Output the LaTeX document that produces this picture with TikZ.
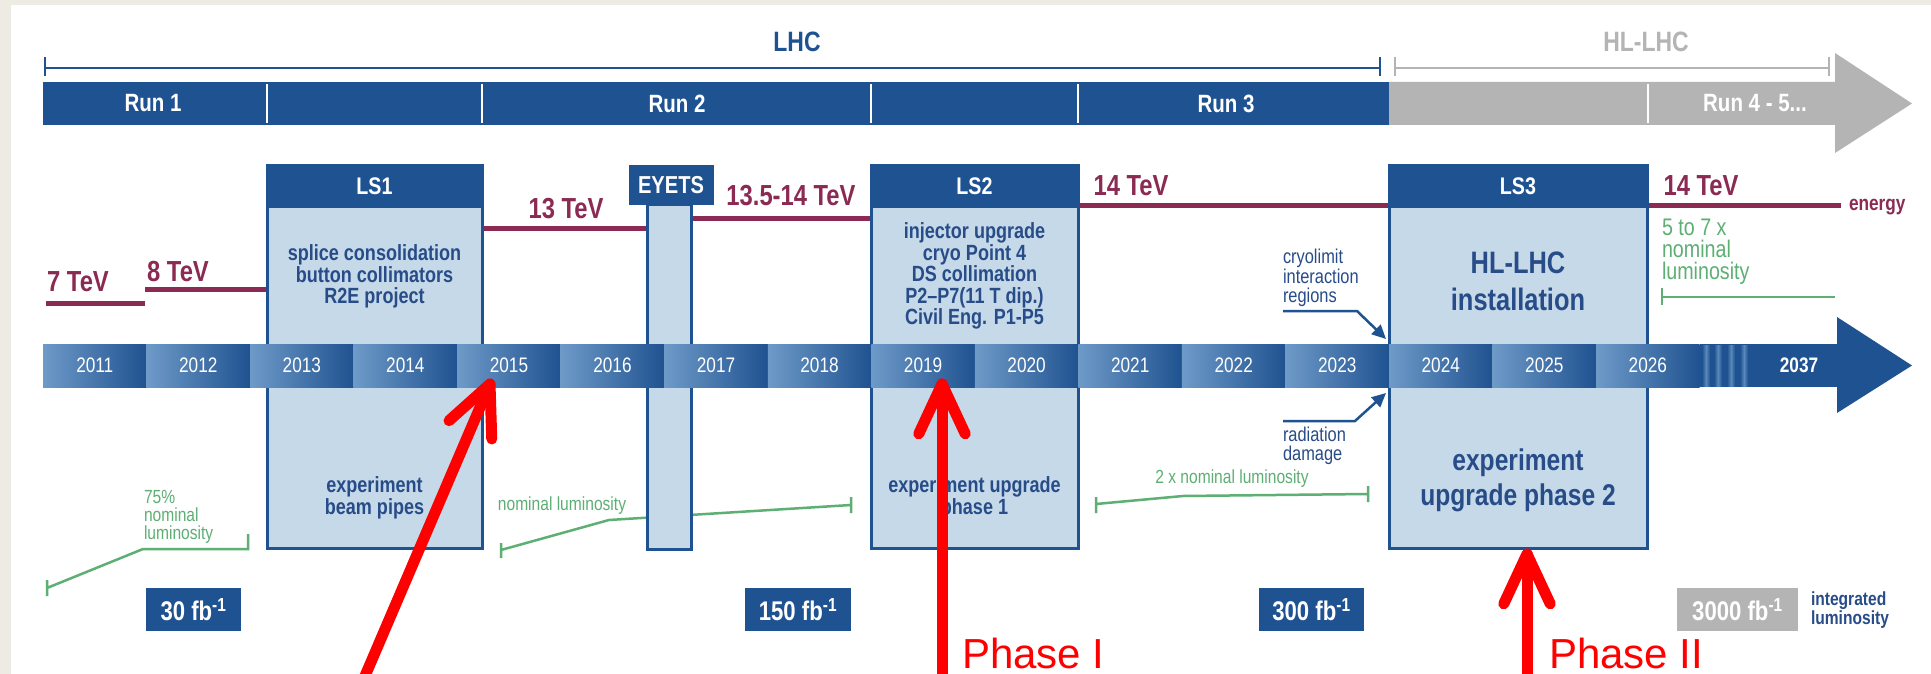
\documentclass[tikz,border=0pt]{standalone}
\usepackage{fontspec}
\setmainfont{Liberation Sans}
\newfontfamily\cf{Liberation Sans}[FakeStretch=0.82]
\usetikzlibrary{arrows.meta,calc}
\newcommand\fsz[2]{\fontsize{#1}{#2}\selectfont}
\definecolor{dblue}{HTML}{1F5290}
\definecolor{lbox}{HTML}{C5D9E9}
\definecolor{segl}{HTML}{6E9AC8}
\definecolor{maroon}{HTML}{8B2A52}
\definecolor{lgreen}{HTML}{5DAF74}
\definecolor{hlgray}{HTML}{B4B4B4}
\definecolor{beige}{HTML}{EEEBE4}
\definecolor{tblue}{HTML}{274C88}
\begin{document}
\begin{tikzpicture}[x=1pt,y=-1pt,
  every node/.style={inner sep=0pt, outer sep=0pt},
  runtxt/.style={text=white, font=\cf\bfseries\fsz{25}{25}},
  hdrbox/.style={fill=dblue, draw=dblue, line width=1pt, anchor=north west},
  bodybox/.style={fill=lbox, draw=dblue, line width=3pt, anchor=north west},
  hdrtxt/.style={text=white, font=\cf\bfseries\fsz{24}{24}},
  boxtxt/.style={text=tblue, font=\cf\bfseries\fsz{22}{21.5}, align=center},
  bigtxt/.style={text=tblue, font=\cf\bfseries\fsz{30}{36}, align=center},
  tev/.style={text=maroon, font=\cf\bfseries\fsz{29}{29}},
  eline/.style={draw=maroon, line width=5pt},
  gline/.style={draw=lgreen, line width=2.5pt},
  gtxt/.style={text=lgreen, font=\cf\fsz{19}{18}, align=left},
  btxt/.style={text=tblue, font=\cf\fsz{20}{19.5}, align=left},
  yr/.style={text=white, font=\cf\fsz{21}{21}},
  fbbox/.style={fill=dblue, anchor=north west, minimum height=43pt},
  fbtxt/.style={text=white, font=\cf\bfseries\fsz{27}{27}},
  redarr/.style={draw=red, line width=11pt, line cap=round, line join=round},
  phase/.style={text=red, font=\fsz{42}{42}, anchor=base west},
  blarr/.style={draw=dblue, line width=2.5pt, -{Triangle[length=14pt,width=13pt]}},
]
\useasboundingbox (0,0) rectangle (1931,674);
\clip (0,0) rectangle (1931,674);
\fill[beige] (0,0) rectangle (1931,674);
\fill[white] (11,5) rectangle (1931,674);

% brackets
\draw[dblue, line width=2.5pt] (45,57) -- (45,76) (45,68) -- (1380,68) (1380,57) -- (1380,76);
\draw[hlgray, line width=2.5pt] (1395,57) -- (1395,76) (1395,68) -- (1829,68) (1829,57) -- (1829,76);
\node[text=dblue, font=\cf\bfseries\fsz{28}{28}] (lhc) at (797,42) {LHC};
\node[text=hlgray, font=\cf\bfseries\fsz{28}{28}] (hllhc) at (1646,42) {HL-LHC};

% run bar
\fill[dblue] (43,82) rectangle (1389,125);
\fill[hlgray] (1389,82) -- (1835,82) -- (1835,53) -- (1912,103.5) -- (1835,153) -- (1835,125) -- (1389,125) -- cycle;
\draw[white, line width=1.5pt] (267,84) -- (267,123) (482,84) -- (482,123) (871,84) -- (871,123) (1078,84) -- (1078,123) (1648,84) -- (1648,123);
\node[runtxt] (run1) at (153,103.5) {Run 1};
\node[runtxt] (run2) at (677,103.5) {Run 2};
\node[runtxt] (run3) at (1226,103.5) {Run 3};
\node[runtxt] (run45) at (1755,103.5) {Run 4 - 5...};

% energy lines
\draw[eline] (46,303) -- (145,303);
\draw[eline] (145,289) -- (267,289);
\draw[eline] (482,228) -- (647,228);
\draw[eline] (691,218) -- (871,218);
\draw[eline] (1078,205) -- (1389,205);
\draw[eline] (1647,205) -- (1841,205);
\node[tev] (e7) at (78,282) {7 TeV};
\node[tev] (e8) at (178,272) {8 TeV};
\node[tev] (e13) at (566,209) {13 TeV};
\node[tev] (e135) at (791,196) {13.5-14 TeV};
\node[tev] (e14a) at (1131,186) {14 TeV};
\node[tev] (e14b) at (1701,186) {14 TeV};
\node[text=maroon, font=\cf\bfseries\fsz{21}{21}, anchor=west] (energy) at (1849,207) {energy};

% green luminosity lines
\draw[gline] (47,580) -- (47,596) (47,588) -- (143,549) -- (248,549) -- (248,534);
\draw[gline] (501,543) -- (501,558) (501,550) -- (609,520) -- (851,505) (851,497) -- (851,513);
\draw[gline] (1096,497) -- (1096,513) (1096,504) -- (1183,496) -- (1368,494) (1368,486) -- (1368,502);
\draw[gline] (1662,288) -- (1662,305) (1662,297) -- (1835,297);
\node[gtxt, anchor=west] (l75) at (144,516.5) {75\%\\nominal\\luminosity};
\node[gtxt] (lnom) at (562,506) {nominal luminosity};
\node[gtxt] (l2x) at (1232,479) {2 x nominal luminosity};
\node[text=lgreen, font=\cf\fsz{24}{22}, align=left, anchor=west] (l57) at (1662,252) {5 to 7 x\\nominal\\luminosity};

% shutdown boxes
\node[bodybox, minimum width=215pt, minimum height=382pt] (ls1) at (267,166) {};
\node[hdrbox, minimum width=215pt, minimum height=41pt] (ls1h) at (267,166) {};
\node[hdrtxt] at (ls1h.center) {LS1};
\node[boxtxt] (ls1t) at (374.5,276.5) {splice consolidation\\button collimators\\R2E project};
\node[boxtxt, font=\cf\bfseries\fsz{22}{22}] (ls1b) at (374.5,498) {experiment\\beam pipes};

\node[bodybox, minimum width=44pt, minimum height=345pt] (eyets) at (647,204) {};
\node[hdrbox, minimum width=84pt, minimum height=38pt] (eyetsh) at (629,166) {};
\node[hdrtxt, font=\cf\bfseries\fsz{24.5}{24}] at (eyetsh.center) {EYETS};

\node[bodybox, minimum width=207pt, minimum height=382pt] (ls2) at (871,166) {};
\node[hdrbox, minimum width=207pt, minimum height=41pt] (ls2h) at (871,166) {};
\node[hdrtxt] at (ls2h.center) {LS2};
\node[boxtxt] (ls2t) at (974.5,276) {injector upgrade\\cryo Point 4\\DS collimation\\P2–P7(11 T dip.)\\Civil Eng. P1-P5};
\node[boxtxt, font=\cf\bfseries\fsz{22}{22}] (ls2b) at (974.5,498) {experiment upgrade\\phase 1};

\node[bodybox, minimum width=258pt, minimum height=382pt] (ls3) at (1389,166) {};
\node[hdrbox, minimum width=258pt, minimum height=41pt] (ls3h) at (1389,166) {};
\node[hdrtxt] at (ls3h.center) {LS3};
\node[bigtxt, font=\cf\bfseries\fsz{31}{37}] (ls3t) at (1518,281.5) {HL-LHC\\installation};
\node[bigtxt, font=\cf\bfseries\fsz{30}{35}] (ls3b) at (1518,480.5) {experiment\\upgrade phase 2};

% year bar
\foreach \i in {0,...,15}{
  \pgfmathsetmacro\xa{43+\i*103.54}
  \pgfmathsetmacro\xb{\xa+103.54}
  \pgfmathtruncatemacro\yy{2011+\i}
  \shade[left color=segl, right color=dblue] (\xa,344) rectangle (\xb,387);
  \node[yr] (y\yy) at ({(\xa+\xb)/2},365.5) {\yy};
}
\fill[dblue] (1699.6,344) rectangle (1837,387);
\foreach \s in {1702,1714,1727,1740}{
  \shade[left color=dblue, right color=dblue, middle color=segl!75!dblue] (\s,345) rectangle (\s+8,386);
}
\fill[dblue] (1837,317) -- (1912,365.5) -- (1837,413) -- cycle;
\node[yr, font=\cf\bfseries\fsz{21}{21}] (y2037) at (1799,365.5) {2037};

% cryolimit / radiation
\node[btxt, anchor=west] (cryo) at (1283,278) {cryolimit\\interaction\\regions};
\node[btxt, anchor=west] (rad) at (1283,446) {radiation\\damage};
\coordinate (cryoA) at (1283,311);
\coordinate (radA) at (1283,421);
\draw[blarr] (cryoA) -- (1357,311) -- (1386,339);
\draw[blarr] (radA) -- (1355,421) -- (1386,393);

% integrated luminosity boxes
\node[fbbox, minimum width=95pt] (fb30) at (146,588) {};
\node[fbtxt] at (fb30.center) {30 fb\textsuperscript{-1}};
\node[fbbox, minimum width=106pt] (fb150) at (745,588) {};
\node[fbtxt] at (fb150.center) {150 fb\textsuperscript{-1}};
\node[fbbox, minimum width=105pt] (fb300) at (1259,588) {};
\node[fbtxt] at (fb300.center) {300 fb\textsuperscript{-1}};
\node[fbbox, fill=hlgray, minimum width=121pt] (fb3000) at (1677,588) {};
\node[fbtxt] at (fb3000.center) {3000 fb\textsuperscript{-1}};
\node[text=tblue, font=\cf\bfseries\fsz{19}{17}, align=left, anchor=west] (intlum) at (1811,610) {integrated\\luminosity};

% red arrows
\coordinate (t1) at (490,384); \coordinate (s1) at (359,690);
\coordinate (t2) at (942,384); \coordinate (s2) at (942,690);
\coordinate (t3) at (1527,554); \coordinate (s3) at (1527,690);
\foreach \t/\s in {t1/s1,t2/s2,t3/s3}{
  \draw[redarr] (\s) -- (\t);
  \draw[redarr] ($(\t)!55pt!25:(\s)$) -- (\t) -- ($(\t)!55pt!-25:(\s)$);
}
\node[phase] (ph1) at (962,668) {Phase I};
\node[phase] (ph2) at (1549,668) {Phase II};
\end{tikzpicture}
\end{document}
